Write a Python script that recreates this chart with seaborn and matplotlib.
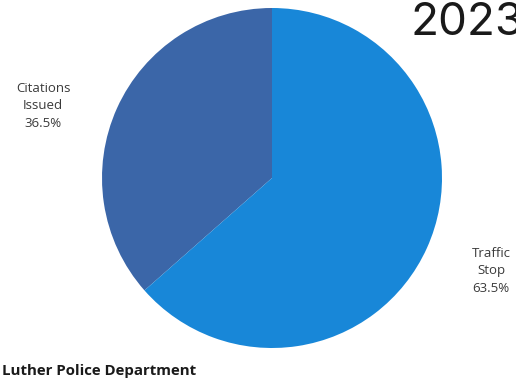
import matplotlib
matplotlib.use("Agg")
import matplotlib.pyplot as plt
import seaborn as sns

categories = ["Citations Issued", "Traffic Stop"]
values = [36.5, 63.5]
label_lines = ["Citations\nIssued", "Traffic\nStop"]
title = "2023"
footer = "Luther Police Department"

sns.set_theme(style="white")
plt.rcParams['font.family'] = ['Open Sans', 'DejaVu Sans']

colors = ["#3b66a8", "#1887d8"]

fig = plt.figure(figsize=(5.16, 3.82), dpi=100)
W, H = 516, 382
cx, cy, r = 272, 178, 170
ax = fig.add_axes([(cx - r) / W, (H - cy - r) / H, 2 * r / W, 2 * r / H])
ax.pie(values, colors=colors, startangle=90, counterclock=True,
       wedgeprops=dict(linewidth=0), radius=1)
ax.set_xlim(-1, 1)
ax.set_ylim(-1, 1)
ax.set_aspect("equal")
ax.axis("off")

label_pos = [(-1.347, 0.425), (1.29, -0.545)]
for (x, y), txt, v in zip(label_pos, label_lines, values):
    ax.text(x, y, f"{txt}\n{v}%", ha="center", va="center", fontsize=9.5,
            color="#3a3a3a", linespacing=1.45, clip_on=False)

fig.text(411 / W, 1 - 35 / H, title, fontsize=33, color="#1a1a1a",
         ha="left", va="baseline", family=["Inter", "DejaVu Sans"])
fig.text(2 / W, 1 - 375 / H, footer, fontsize=10.8, fontweight="bold",
         color="#1a1a1a", ha="left", va="baseline", family=["Open Sans", "DejaVu Sans"])

fig.savefig("out.png", dpi=100, facecolor="white")
